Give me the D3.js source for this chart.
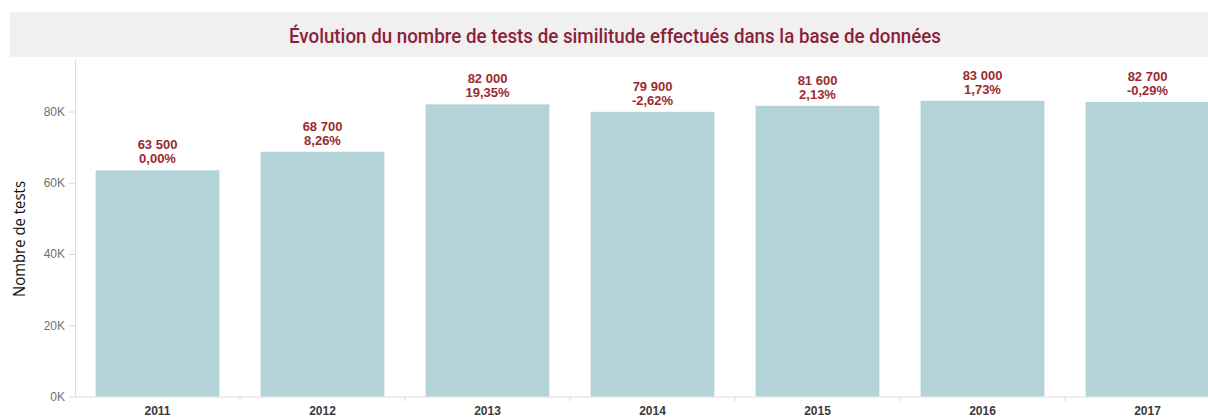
<!DOCTYPE html>
<html>
<head>
<meta charset="utf-8">
<script src="https://cdn.jsdelivr.net/npm/d3@7"></script>
<style>
  body { margin: 0; background: #fff; }
  svg { display: block; }
</style>
</head>
<body>
<div id="chart"></div>
<script>
// data
const years = ["2011", "2012", "2013", "2014", "2015", "2016", "2017"];
const tests = [63500, 68700, 82000, 79900, 81600, 83000, 82700];
const changes = ["0,00%", "8,26%", "19,35%", "-2,62%", "2,13%", "1,73%", "-0,29%"];
const yTicks = [0, 20000, 40000, 60000, 80000];

const W = 1208, H = 417;
const sans = "'Liberation Sans', Arial, sans-serif";

const svg = d3.select("#chart").append("svg")
    .attr("width", W)
    .attr("height", H);

// title band
svg.append("rect")
    .attr("x", 10).attr("y", 12)
    .attr("width", W - 10).attr("height", 45)
    .style("fill", "#f0f0f0");
svg.append("text")
    .attr("x", 289).attr("y", 43)
    .attr("textLength", 652)
    .attr("lengthAdjust", "spacingAndGlyphs")
    .style("font-family", "Roboto, sans-serif")
    .style("font-weight", "500")
    .style("font-size", "20px")
    .style("fill", "#8c1f3a")
    .text("Évolution du nombre de tests de similitude effectués dans la base de données");

const x = d3.scaleBand()
    .domain(years)
    .range([75, 1230])
    .paddingInner(0.25)
    .paddingOuter(0.125);

const y = d3.scaleLinear()
    .domain([0, 80000])
    .range([396.5, 111.5]);

const plotTop = 60;

// y axis
const yAxis = svg.append("g")
    .attr("transform", "translate(75,0)")
    .call(d3.axisLeft(y).tickValues(yTicks).tickSize(6).tickPadding(4)
        .tickFormat(d => (d / 1000) + "K"));
yAxis.select(".domain").remove();
yAxis.selectAll(".tick line").style("stroke", "#d8d8d8");
yAxis.selectAll(".tick text")
    .style("font-family", sans)
    .style("font-size", "12px")
    .style("fill", "#707070");
svg.append("line")
    .attr("x1", 75.5).attr("x2", 75.5)
    .attr("y1", plotTop).attr("y2", y(0))
    .style("stroke", "#dcdcdc");

// x axis
svg.append("line")
    .attr("x1", 75).attr("x2", W)
    .attr("y1", y(0) + 0.5).attr("y2", y(0) + 0.5)
    .style("stroke", "#dcdcdc");
svg.selectAll("line.sep")
    .data(years.slice(1))
    .join("line")
    .attr("class", "sep")
    .attr("x1", d => x(d) - x.step() * x.paddingInner() / 2)
    .attr("x2", d => x(d) - x.step() * x.paddingInner() / 2)
    .attr("y1", y(0)).attr("y2", y(0) + 5)
    .style("stroke", "#dcdcdc");
svg.selectAll("text.year")
    .data(years)
    .join("text")
    .attr("class", "year")
    .attr("x", d => x(d) + x.bandwidth() / 2)
    .attr("y", 415)
    .attr("text-anchor", "middle")
    .style("font-family", sans)
    .style("font-weight", "bold")
    .style("font-size", "12px")
    .style("fill", "#3a3a3a")
    .text(d => d);

// y title
svg.append("text")
    .attr("transform", "translate(25,297) rotate(-90)")
    .attr("textLength", 116)
    .attr("lengthAdjust", "spacingAndGlyphs")
    .style("font-family", "'Open Sans', sans-serif")
    .style("font-size", "17px")
    .style("fill", "#111")
    .text("Nombre de tests");

// bars
svg.selectAll("rect.bar")
    .data(tests)
    .join("rect")
    .attr("class", "bar")
    .attr("x", (d, i) => x(years[i]))
    .attr("y", d => y(d))
    .attr("width", x.bandwidth())
    .attr("height", d => y(0) - y(d))
    .style("fill", "#b4d3d9");

// labels
const fmt = d => d3.format(",")(d).replace(/,/g, " ");
const labels = svg.selectAll("g.lbl")
    .data(tests)
    .join("g")
    .attr("class", "lbl")
    .attr("transform", (d, i) => `translate(${x(years[i]) + x.bandwidth() / 2},${y(d)})`)
    .style("font-family", sans)
    .style("font-weight", "bold")
    .style("font-size", "13px")
    .style("fill", "#9c2a30")
    .attr("text-anchor", "middle");
labels.append("text").attr("y", -21).text(d => fmt(d));
labels.append("text").attr("y", -7).text((d, i) => changes[i]);
</script>
</body>
</html>
